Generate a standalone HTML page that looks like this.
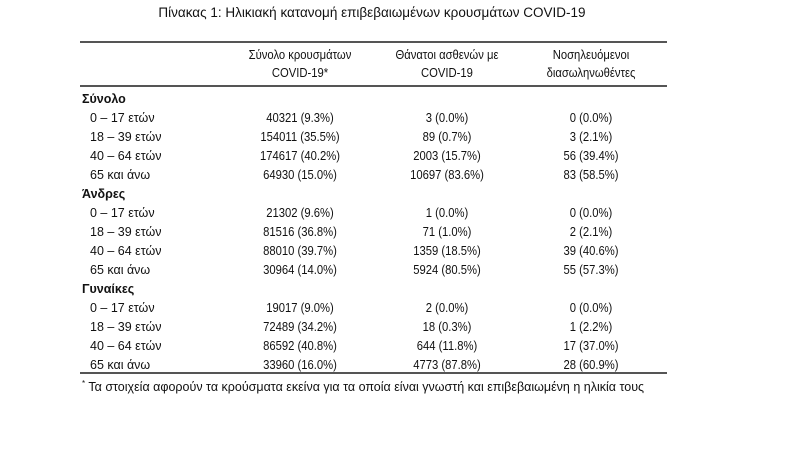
<!DOCTYPE html>
<html><head><meta charset="utf-8"><style>
body{margin:0;width:788px;height:452px;background:#fff;position:relative;overflow:hidden;font-family:"Liberation Sans Narrow","Liberation Sans",sans-serif;font-size:12.5px;color:#111}
.t{position:absolute;white-space:nowrap;line-height:14px}
.c{transform:translateX(-50%) scaleX(0.9)}
.l{position:absolute;left:80px;width:587px;height:2px;background:#555}
b{font-weight:bold}
</style></head><body>
<div class="t" style="left:372px;top:6px;font-size:13.5px;transform:translateX(-50%)">Πίνακας 1: Ηλικιακή κατανομή επιβεβαιωμένων κρουσμάτων COVID-19</div>
<div class="l" style="top:41px"></div>
<div class="t c" style="left:300px;top:48px;text-align:center">Σύνολο κρουσμάτων<br><span style="line-height:22px">COVID-19*</span></div>
<div class="t c" style="left:447px;top:48px;text-align:center">Θάνατοι ασθενών με<br><span style="line-height:22px">COVID-19</span></div>
<div class="t c" style="left:591px;top:48px;text-align:center">Νοσηλευόμενοι<br><span style="line-height:22px">διασωληνωθέντες</span></div>
<div class="l" style="top:85px"></div>
<div id="rows"></div>
<div class="l" style="top:372px"></div>
<div class="t" style="left:82px;top:377px"><sup style="font-size:8px">*</sup> Τα στοιχεία αφορούν τα κρούσματα εκείνα για τα οποία είναι γνωστή και επιβεβαιωμένη η ηλικία τους</div>
<script>
var d=[["Σύνολο"],["0 – 17 ετών","40321 (9.3%)","3 (0.0%)","0 (0.0%)"],["18 – 39 ετών","154011 (35.5%)","89 (0.7%)","3 (2.1%)"],["40 – 64 ετών","174617 (40.2%)","2003 (15.7%)","56 (39.4%)"],["65 και άνω","64930 (15.0%)","10697 (83.6%)","83 (58.5%)"],
["Άνδρες"],["0 – 17 ετών","21302 (9.6%)","1 (0.0%)","0 (0.0%)"],["18 – 39 ετών","81516 (36.8%)","71 (1.0%)","2 (2.1%)"],["40 – 64 ετών","88010 (39.7%)","1359 (18.5%)","39 (40.6%)"],["65 και άνω","30964 (14.0%)","5924 (80.5%)","55 (57.3%)"],
["Γυναίκες"],["0 – 17 ετών","19017 (9.0%)","2 (0.0%)","0 (0.0%)"],["18 – 39 ετών","72489 (34.2%)","18 (0.3%)","1 (2.2%)"],["40 – 64 ετών","86592 (40.8%)","644 (11.8%)","17 (37.0%)"],["65 και άνω","33960 (16.0%)","4773 (87.8%)","28 (60.9%)"]];
var h="";d.forEach(function(r,i){var y=92+i*19;if(r.length==1)h+='<div class="t" style="left:82px;top:'+y+'px"><b>'+r[0]+'</b></div>';else{h+='<div class="t" style="left:90px;top:'+y+'px">'+r[0]+'</div>';[300,447,591].forEach(function(x,j){h+='<div class="t c" style="left:'+x+'px;top:'+y+'px">'+r[j+1]+'</div>'})}});
document.getElementById("rows").innerHTML=h;
</script>
</body></html>
